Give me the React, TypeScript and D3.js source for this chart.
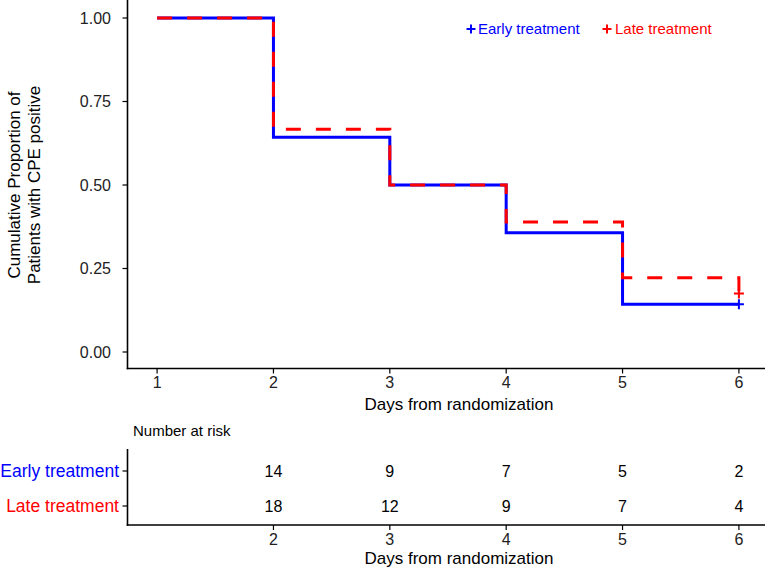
import * as d3 from "d3";

// survival curves
const days = [1, 2, 3, 4, 5, 6];
const earlyProp = [1, 0.643, 0.5, 0.357, 0.143, 0.143];
const lateProp = [1, 0.667, 0.5, 0.389, 0.222, 0.175];

// censor marks at the last day
const censorDay = 6;
const earlyCensor = 0.143;
const lateCensor = 0.175;

const yTicks = [0, 0.25, 0.5, 0.75, 1];

// risk table
const groups = ["Early treatment", "Late treatment"];
const riskDays = [2, 3, 4, 5, 6];
const earlyRisk = [14, 9, 7, 5, 2];
const lateRisk = [18, 12, 9, 7, 4];

const BLUE = "#0000FF";
const RED = "#FF0000";
const FONT = "'Liberation Sans', Arial, sans-serif";

const width = 765;
const height = 573;

export default function App() {
  const x = d3.scaleLinear().domain([0.75, 6.25]).range([128, 768]);
  const y = d3.scaleLinear().domain([-0.05, 1.05]).range([368.7, 1.3]);
  const row = d3.scalePoint<string>().domain(groups).range([471, 506]);

  const line = d3
    .line<[number, number]>()
    .x((d) => x(d[0]))
    .y((d) => y(d[1]))
    .curve(d3.curveStepAfter);

  const earlyPath = line(days.map((d, i) => [d, earlyProp[i]]) as [number, number][]) || "";
  const latePath = line(days.map((d, i) => [d, lateProp[i]]) as [number, number][]) || "";

  const plus = (cx: number, cy: number, s: number) =>
    `M${cx - s},${cy}H${cx + s}M${cx},${cy - s}V${cy + s}`;

  const axisY = 368.5;
  const tableAxisY = 525;
  const axisX = 127.5;

  return (
    <svg
      width={width}
      height={height}
      style={{ position: "absolute", left: 0, top: 0, background: "#fff" }}
      fontFamily={FONT}
    >
      {/* main panel axes */}
      <line x1={axisX} x2={axisX} y1={0} y2={axisY + 0.8} stroke="#000" strokeWidth={1.6} />
      <line x1={axisX - 0.8} x2={768} y1={axisY} y2={axisY} stroke="#000" strokeWidth={1.6} />
      {yTicks.map((t) => (
        <g key={t}>
          <line x1={axisX - 5} x2={axisX} y1={y(t)} y2={y(t)} stroke="#000" strokeWidth={1.2} />
          <text x={111} y={y(t)} dy="0.36em" textAnchor="end" fontSize={16} fill="#222">
            {d3.format(".2f")(t)}
          </text>
        </g>
      ))}
      {days.map((d) => (
        <g key={d}>
          <line x1={x(d)} x2={x(d)} y1={axisY} y2={axisY + 5} stroke="#000" strokeWidth={1.2} />
          <text x={x(d)} y={388} textAnchor="middle" fontSize={16} fill="#222">
            {d}
          </text>
        </g>
      ))}
      <text x={459} y={410} textAnchor="middle" fontSize={17} fill="#000">
        Days from randomization
      </text>
      <text transform="translate(20,185) rotate(-90)" textAnchor="middle" fontSize={17} fill="#000">
        Cumulative Proportion of
      </text>
      <text transform="translate(40,185) rotate(-90)" textAnchor="middle" fontSize={17} fill="#000">
        Patients with CPE positive
      </text>

      {/* curves */}
      <path d={earlyPath} fill="none" stroke={BLUE} strokeWidth={3} />
      <path d={latePath} fill="none" stroke={RED} strokeWidth={3} strokeDasharray="15 15" />
      <path d={plus(x(censorDay), y(lateCensor), 5)} stroke={RED} strokeWidth={2} />
      <path d={plus(x(censorDay), y(earlyCensor), 5)} stroke={BLUE} strokeWidth={2} />

      {/* legend */}
      <path d={plus(471, 29, 4.5)} stroke={BLUE} strokeWidth={2} />
      <text x={478} y={34} fontSize={15} fill={BLUE}>
        Early treatment
      </text>
      <path d={plus(607, 29, 4.5)} stroke={RED} strokeWidth={2} />
      <text x={615} y={34} fontSize={15} fill={RED}>
        Late treatment
      </text>

      {/* risk table */}
      <text x={133} y={436} fontSize={15} fill="#000">
        Number at risk
      </text>
      <line x1={axisX} x2={axisX} y1={449} y2={tableAxisY + 0.8} stroke="#000" strokeWidth={1.6} />
      <line x1={axisX - 0.8} x2={768} y1={tableAxisY} y2={tableAxisY} stroke="#000" strokeWidth={1.6} />
      {groups.map((g, gi) => (
        <g key={g}>
          <line x1={axisX - 5} x2={axisX} y1={row(g)!} y2={row(g)!} stroke="#000" strokeWidth={1.2} />
          <text x={119} y={row(g)!} dy="0.36em" textAnchor="end" fontSize={17.5} fill={gi === 0 ? BLUE : RED}>
            {g}
          </text>
          {riskDays.map((d, i) => (
            <text key={d} x={x(d)} y={row(g)!} dy="0.36em" textAnchor="middle" fontSize={16} fill="#000">
              {gi === 0 ? earlyRisk[i] : lateRisk[i]}
            </text>
          ))}
        </g>
      ))}
      {riskDays.map((d) => (
        <g key={d}>
          <line x1={x(d)} x2={x(d)} y1={tableAxisY} y2={tableAxisY + 5} stroke="#000" strokeWidth={1.2} />
          <text x={x(d)} y={545} textAnchor="middle" fontSize={16} fill="#222">
            {d}
          </text>
        </g>
      ))}
      <text x={459} y={564} textAnchor="middle" fontSize={17} fill="#000">
        Days from randomization
      </text>
    </svg>
  );
}
